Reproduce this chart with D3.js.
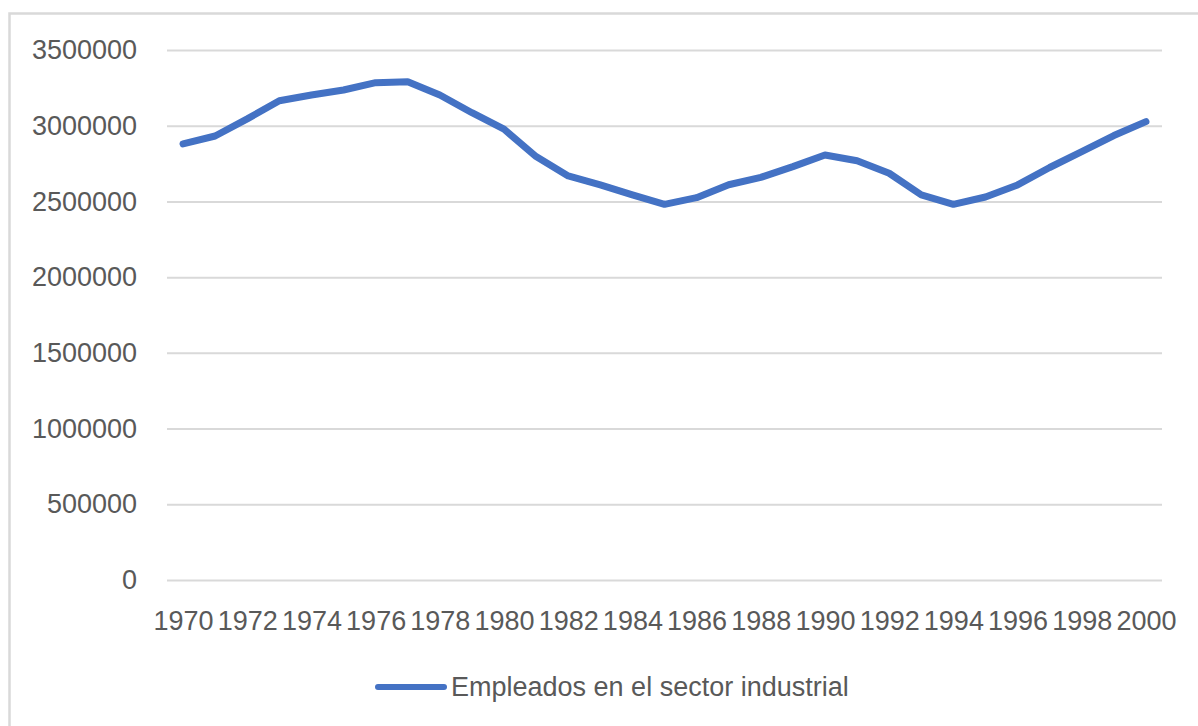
<!DOCTYPE html>
<html>
<head>
<meta charset="utf-8">
<script src="https://cdn.jsdelivr.net/npm/d3@7"></script>
<style>
  html, body { margin: 0; padding: 0; background: #fff; }
  svg { display: block; }
</style>
</head>
<body>
<svg id="chart" width="1198" height="726"></svg>
<script>
const years = [1970,1971,1972,1973,1974,1975,1976,1977,1978,1979,1980,1981,1982,1983,1984,1985,1986,1987,1988,1989,1990,1991,1992,1993,1994,1995,1996,1997,1998,1999,2000];
const empleados = [2880000,2932000,3045000,3165000,3203000,3236000,3284000,3291000,3203000,3086000,2977000,2796000,2668000,2609000,2543000,2481000,2525000,2610000,2659000,2730000,2807000,2769000,2686000,2543000,2481000,2529000,2609000,2724000,2829000,2935000,3027000];
const yTicks = [0,500000,1000000,1500000,2000000,2500000,3000000,3500000];
const xTickLabels = [1970,1972,1974,1976,1978,1980,1982,1984,1986,1988,1990,1992,1994,1996,1998,2000];
const seriesName = "Empleados en el sector industrial";

const svg = d3.select("#chart");
const FONT = "'Liberation Sans', Arial, sans-serif";
const TEXT = "#595959";
const BLUE = "#4472C4";
const GRID = "#d9d9d9";

// outer frame
svg.append("rect")
  .attr("x", 9.5).attr("y", 13.5)
  .attr("width", 1400).attr("height", 900)
  .attr("fill", "none").attr("stroke", GRID).attr("stroke-width", 2.5);

const plotL = 167, plotR = 1162, plotT = 50, plotB = 580;

const x = d3.scalePoint().domain(years).range([plotL, plotR]).padding(0.5);
const y = d3.scaleLinear().domain([0, 3500000]).range([plotB, plotT]);

// gridlines + y labels
const yAxis = d3.axisLeft(y).tickValues(yTicks).tickSize(-(plotR - plotL)).tickPadding(30).tickFormat(d => String(d));
const gy = svg.append("g").attr("transform", `translate(${plotL},0)`).call(yAxis);
gy.select(".domain").remove();
gy.selectAll(".tick line").attr("stroke", GRID).attr("stroke-width", 2);
gy.selectAll(".tick text")
  .attr("fill", TEXT).style("font-family", FONT).style("font-size", "27px");

// x labels
const xAxis = d3.axisBottom(x).tickValues(xTickLabels).tickSize(0).tickPadding(0);
const gx = svg.append("g").attr("transform", `translate(0,${plotB})`).call(xAxis);
gx.select(".domain").remove();
gx.selectAll(".tick text")
  .attr("fill", TEXT).attr("dy", null).attr("y", 50)
  .style("font-family", FONT).style("font-size", "27px");

// line
const line = d3.line().x((d, i) => x(years[i])).y(d => y(d));
svg.append("path")
  .datum(empleados)
  .attr("d", line)
  .attr("fill", "none")
  .attr("stroke", BLUE)
  .attr("stroke-width", 7)
  .attr("stroke-linejoin", "round")
  .attr("stroke-linecap", "round");

// legend
const lg = svg.append("g");
lg.append("line")
  .attr("x1", 378).attr("x2", 444).attr("y1", 687).attr("y2", 687)
  .attr("stroke", BLUE).attr("stroke-width", 6).attr("stroke-linecap", "round");
lg.append("text")
  .attr("x", 451).attr("y", 696)
  .attr("fill", TEXT).style("font-family", FONT).style("font-size", "27px")
  .text(seriesName);
</script>
</body>
</html>
